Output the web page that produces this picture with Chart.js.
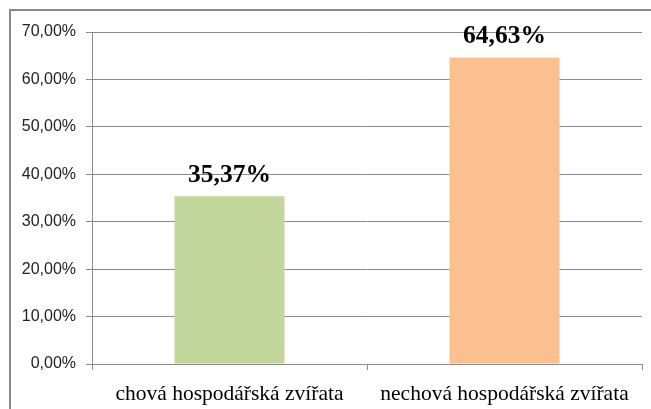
<!DOCTYPE html>
<html>
<head>
<meta charset="utf-8">
<script src="https://cdn.jsdelivr.net/npm/chart.js@4/dist/chart.umd.min.js"></script>
<style>
  html, body { margin: 0; padding: 0; background: #fff; }
  #wrap { position: relative; width: 651px; height: 409px; }
</style>
</head>
<body>
<div id="wrap"><canvas id="chart" width="651" height="409"></canvas></div>
<script>
// data (percent)
const categories = ['chová hospodářská zvířata', 'nechová hospodářská zvířata'];
const shares = [35.37, 64.63];
const barColors = ['#c3d69b', '#fac090'];
const yMax = 70;
const yStep = 10;

const fmt = v => v.toFixed(2).replace('.', ',') + '%';

// outer frame, as in the spreadsheet export
const framePlugin = {
  id: 'frame',
  beforeDraw(chart) {
    const ctx = chart.ctx;
    ctx.save();
    ctx.fillStyle = '#fff';
    ctx.fillRect(0, 0, chart.width, chart.height);
    ctx.strokeStyle = '#8a8a8a';
    ctx.lineWidth = 2;
    ctx.strokeRect(10, 10, chart.width + 20, chart.height + 20);
    ctx.restore();
  }
};

// value labels above bars
const valueLabels = {
  id: 'valueLabels',
  afterDatasetsDraw(chart) {
    const ctx = chart.ctx;
    const meta = chart.getDatasetMeta(0);
    ctx.save();
    ctx.font = 'bold 25.5px "Liberation Serif", "Times New Roman", serif';
    ctx.fillStyle = '#000';
    ctx.textAlign = 'center';
    ctx.textBaseline = 'alphabetic';
    meta.data.forEach((bar, i) => {
      ctx.fillText(fmt(shares[i]), bar.x, bar.y - 14);
    });
    ctx.restore();
  }
};

new Chart(document.getElementById('chart').getContext('2d'), {
  type: 'bar',
  data: {
    labels: categories,
    datasets: [{
      data: shares,
      backgroundColor: barColors,
      borderWidth: 0,
      categoryPercentage: 1,
      barPercentage: 0.4
    }]
  },
  options: {
    responsive: false,
    animation: false,
    layout: { padding: { top: 32, right: 9, left: 0, bottom: 0 } },
    plugins: {
      legend: { display: false },
      tooltip: { enabled: false }
    },
    scales: {
      x: {
        offset: true,
        grid: {
          offset: true,
          drawOnChartArea: false,
          tickLength: 6,
          color: '#8c8c8c'
        },
        border: { color: '#8c8c8c' },
        ticks: {
          color: '#000',
          padding: 11,
          maxRotation: 0,
          font: { family: '"Liberation Serif", "Times New Roman", serif', size: 21.5 }
        },
        afterFit(scale) { scale.height = 45; }
      },
      y: {
        min: 0,
        max: yMax,
        ticks: {
          stepSize: yStep,
          color: '#222',
          padding: 10,
          font: { family: '"Liberation Sans", Arial, sans-serif', size: 16 },
          callback: v => fmt(v)
        },
        grid: { color: '#8c8c8c', tickLength: 6 },
        border: { color: '#8c8c8c' },
        afterFit(scale) { scale.width = 92; }
      }
    }
  },
  plugins: [framePlugin, valueLabels]
});
</script>
</body>
</html>
